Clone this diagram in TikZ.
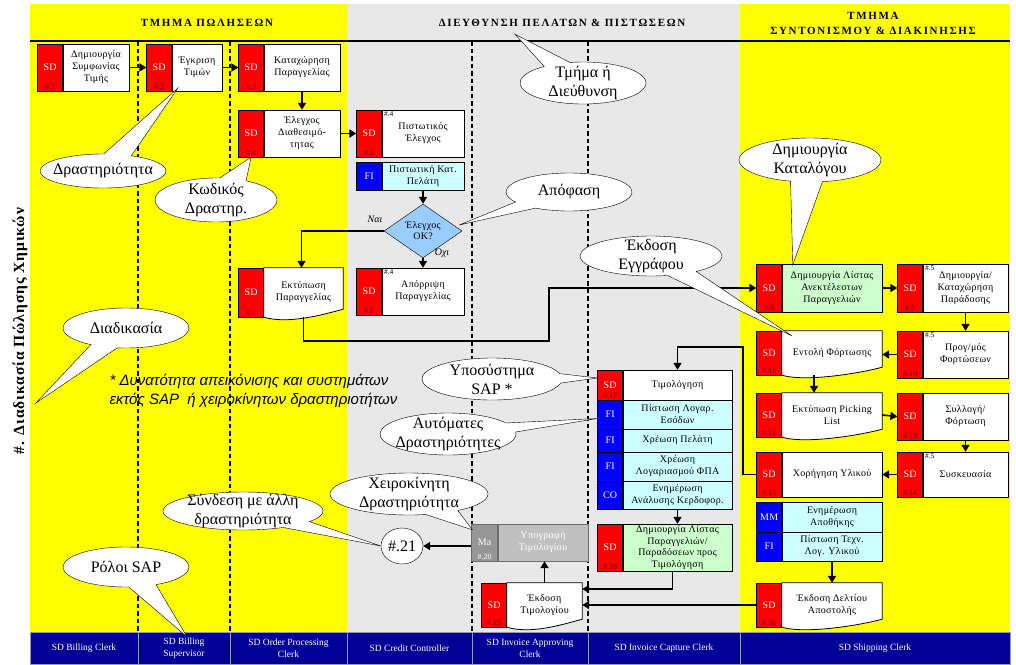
\documentclass[tikz,border=0pt]{standalone}
\usepackage{fontspec}
\setmainfont{Liberation Serif}
\setsansfont{Liberation Sans}
\newfontfamily\hdrfont[LetterSpace=15]{Liberation Serif}
\newfontfamily\titlefont[LetterSpace=6]{Liberation Serif}
\newfontfamily\boxfont[LetterSpace=3]{Liberation Serif}
\usetikzlibrary{arrows.meta,positioning,shapes.geometric,shapes.callouts,backgrounds}
\definecolor{laneyellow}{RGB}{255,255,0}
\definecolor{lanegrey}{RGB}{232,232,232}
\definecolor{rolenavy}{RGB}{0,0,153}
\definecolor{rolegrey}{RGB}{150,150,190}
\definecolor{tagred}{RGB}{255,0,0}
\definecolor{tagblue}{RGB}{0,0,255}
\definecolor{cyanfill}{RGB}{204,255,255}
\definecolor{greenfill}{RGB}{204,255,204}
\definecolor{diafill}{RGB}{153,204,255}
\definecolor{numred}{RGB}{90,0,0}
\definecolor{greyleft}{RGB}{150,150,150}
\definecolor{greyright}{RGB}{192,192,192}
\definecolor{greyedge}{RGB}{110,110,110}

\begin{document}
\begin{tikzpicture}
[x=1pt,y=-1pt,
tag/.style={draw,fill=tagred,text=white,minimum width=25pt,inner sep=0pt,font=\boxfont\fontsize{10}{12}\selectfont},
bluetag/.style={tag,fill=tagblue},
body/.style={draw,fill=white,align=center,inner sep=0pt,font=\boxfont\fontsize{10}{12}\selectfont},
cyanbody/.style={body,fill=cyanfill},
greenbody/.style={body,fill=greenfill},
docbody/.style={body,draw=none,fill=none},
num/.style={anchor=south,inner sep=1.5pt,text=numred,font=\fontsize{8}{9}\selectfont},
sup/.style={anchor=north west,inner sep=2pt,font=\fontsize{7.5}{8}\selectfont},
flow/.style={line width=1.6pt,-{Triangle[width=8pt,length=7pt]}},
bubble/.style={ellipse callout,draw,fill=white,callout pointer arc=26,inner sep=-8pt,align=center,font=\fontsize{16}{19}\selectfont},
lanesep/.style={line width=1.3pt,dash pattern=on 4.5pt off 3pt},
role/.style={draw=rolegrey,fill=rolenavy,text=white,align=center,inner sep=0pt,minimum height=32pt,font=\fontsize{9.5}{12}\selectfont},
hdr/.style={align=center,font=\hdrfont\bfseries\fontsize{11}{15}\selectfont}]
\useasboundingbox (0,0) rectangle (1016,664);

% lanes
\begin{scope}[on background layer]
\fill[laneyellow] (30,4) rectangle (347,632);
\fill[lanegrey] (347,4) rectangle (740,632);
\fill[laneyellow] (740,4) rectangle (1010,632);
\end{scope}
\draw[line width=1.5pt] (30,41) -- (1010,41);
\foreach \x in {138,230,472,588}
  \draw[lanesep] (\x,41) -- (\x,632);

\node[hdr] (h1) at (207,23) {ΤΜΗΜΑ ΠΩΛΗΣΕΩΝ};
\node[hdr] (h2) at (562,23) {ΔΙΕΥΘΥΝΣΗ ΠΕΛΑΤΩΝ \& ΠΙΣΤΩΣΕΩΝ};
\node[hdr] (h3) at (873,23) {ΤΜΗΜΑ\\ΣΥΝΤΟΝΙΣΜΟΥ \& ΔΙΑΚΙΝΗΣΗΣ};
\node[rotate=90,font=\titlefont\bfseries\fontsize{15.5}{17}\selectfont] (title) at (20,331) {\#. Διαδικασία Πώλησης Χημικών};

% roles
\node[role,minimum width=108pt] (r1) at (84,648) {SD Billing Clerk};
\node[role,minimum width=92pt] (r2) at (184,648) {SD Billing\\Supervisor};
\node[role,minimum width=117pt] (r3) at (288.5,648) {SD Order Processing\\Clerk};
\node[role,minimum width=125pt] (r4) at (409.5,648) {SD Credit Controller};
\node[role,minimum width=116pt] (r5) at (530,648) {SD Invoice Approving\\Clerk};
\node[role,minimum width=152pt] (r6) at (664,648) {SD Invoice Capture Clerk};
\node[role,minimum width=270pt] (r7) at (875,648) {SD Shipping Clerk};

% sales
\node[body,minimum width=66pt,minimum height=47pt] (b1) at (96,67.5) {Δημιουργία\\Συμφωνίας\\Τιμής};
\node[tag,minimum height=47pt,left=0pt of b1,label={[num]south:\#.1}] (t1) {SD};
\node[body,minimum width=50pt,minimum height=47pt] (b2) at (197,67.5) {Έγκριση\\Τιμών};
\node[tag,minimum height=47pt,left=0pt of b2,label={[num]south:\#.2}] (t2) {SD};
\node[body,minimum width=76pt,minimum height=47pt] (b3) at (302,67.5) {Καταχώρηση\\Παραγγελίας};
\node[tag,minimum height=47pt,left=0pt of b3,label={[num]south:\#.3}] (t3) {SD};
\node[body,minimum width=76pt,minimum height=47pt] (b4) at (302,133.5) {Έλεγχος\\Διαθεσιμό-\\τητας};
\node[tag,minimum height=47pt,left=0pt of b4,label={[num]south:\#.4}] (t4) {SD};
\node[docbody,minimum width=79pt,minimum height=49pt] (b7) at (303.5,292.5) {Εκτύπωση\\Παραγγελίας};
\node[tag,minimum height=49pt,left=0pt of b7,label={[num]south:\#.7}] (t7) {SD};

% credit
\node[body,minimum width=82pt,minimum height=47pt,label={[sup]north west:\#.4}] (b5) at (423,133.5) {Πιστωτικός\\Έλεγχος};
\node[tag,minimum height=47pt,left=0pt of b5,label={[num]south:\#.5}] (t5) {SD};
\node[cyanbody,minimum width=82pt,minimum height=28pt] (fi5b) at (423,176) {Πιστωτική Κατ.\\Πελάτη};
\node[bluetag,minimum height=28pt,left=0pt of fi5b] (fi5t) {FI};
\node[diamond,draw,fill=diafill,aspect=1.46,minimum width=78pt,minimum height=54pt,inner sep=0pt,align=center,font=\boxfont\fontsize{10}{11}\selectfont] (dia) at (423,231) {Έλεγχος\\OK?};
\node[font=\itshape\fontsize{10}{12}\selectfont] (yes) at (375,219) {Ναι};
\node[font=\itshape\fontsize{10}{12}\selectfont] (no) at (442,253) {Όχι};
\node[body,minimum width=82pt,minimum height=47pt,label={[sup]north west:\#.4}] (b6) at (423,291.5) {Απόρριψη\\Παραγγελίας};
\node[tag,minimum height=47pt,left=0pt of b6,label={[num]south:\#.6}] (t6) {SD};

% invoicing
\node[body,minimum width=109pt,minimum height=30pt] (b17) at (677.5,385) {Τιμολόγηση};
\node[tag,minimum height=30pt,left=0pt of b17,label={[num]south:\#.17}] (t17) {SD};
\node[cyanbody,minimum width=109pt,minimum height=29pt] (fiab) at (677.5,414.5) {Πίστωση Λογαρ.\\Εσόδων};
\node[bluetag,minimum height=29pt,left=0pt of fiab] (fiat) {FI};
\node[cyanbody,minimum width=109pt,minimum height=23pt] (fibb) at (677.5,440.5) {Χρέωση Πελάτη};
\node[bluetag,minimum height=23pt,left=0pt of fibb] (fibt) {FI};
\node[cyanbody,minimum width=109pt,minimum height=29pt] (ficb) at (677.5,466.5) {Χρέωση\\Λογαριασμού ΦΠΑ};
\node[bluetag,minimum height=29pt,left=0pt of ficb] (fict) {FI};
\node[cyanbody,minimum width=109pt,minimum height=28pt] (cob) at (677.5,495) {Ενημέρωση\\Ανάλυσης Κερδοφορ.};
\node[bluetag,minimum height=28pt,left=0pt of cob] (cot) {CO};
\node[greenbody,minimum width=109pt,minimum height=47pt,font=\boxfont\fontsize{10}{11.5}\selectfont] (b18) at (677.5,547.5) {Δημιουργία Λίστας\\Παραγγελιών/\\Παραδόσεων προς\\Τιμολόγηση};
\node[tag,minimum height=47pt,left=0pt of b18,label={[num]south:\#.18}] (t18) {SD};
\node[docbody,minimum width=75pt,minimum height=44pt] (b19) at (544.5,605) {Έκδοση\\Τιμολογίου};
\node[tag,minimum height=44pt,left=0pt of b19,label={[num]south:\#.19}] (t19) {SD};
\node[body,fill=greyright,draw=greyedge,text=white,minimum width=90pt,minimum height=37pt] (b20) at (543,542.5) {Υπογραφή\\Τιμολογίου};
\node[tag,fill=greyleft,draw=greyedge,minimum width=26pt,minimum height=37pt,left=0pt of b20,label={[num,text=white]south:\#.20}] (t20) {Ma};
\node[ellipse,draw,fill=white,minimum width=42pt,minimum height=36pt,inner sep=0pt,font=\fontsize{16}{19}\selectfont] (c21) at (402,546) {\#.21};

% shipping
\node[greenbody,minimum width=100pt,minimum height=48pt] (b8) at (832,288) {Δημιουργία Λίστας\\Ανεκτέλεστων\\Παραγγελιών};
\node[tag,minimum height=48pt,left=0pt of b8,label={[num]south:\#.8}] (t8) {SD};
\node[body,minimum width=85pt,minimum height=48pt,label={[sup]north west:\#.5}] (b9) at (965.5,288) {Δημιουργία/\\Καταχώρηση\\Παράδοσης};
\node[tag,minimum height=48pt,left=0pt of b9,label={[num]south:\#.9}] (t9) {SD};
\node[body,minimum width=85pt,minimum height=47pt,label={[sup]north west:\#.5}] (b10) at (965.5,354.5) {Προγ/μός\\Φορτώσεων};
\node[tag,minimum height=47pt,left=0pt of b10,label={[num]south:\#.10}] (t10) {SD};
\node[docbody,minimum width=100pt,minimum height=44pt] (b11) at (832,353) {Εντολή Φόρτωσης};
\node[tag,minimum height=44pt,left=0pt of b11,label={[num]south:\#.11}] (t11) {SD};
\node[docbody,minimum width=100pt,minimum height=44pt] (b12) at (832,415) {Εκτύπωση Picking\\List};
\node[tag,minimum height=44pt,left=0pt of b12,label={[num]south:\#.12}] (t12) {SD};
\node[body,minimum width=85pt,minimum height=47pt] (b13) at (965.5,416.5) {Συλλογή/\\Φόρτωση};
\node[tag,minimum height=47pt,left=0pt of b13,label={[num]south:\#.13}] (t13) {SD};
\node[body,minimum width=85pt,minimum height=45pt,label={[sup]north west:\#.5}] (b14) at (965.5,474.5) {Συσκευασία};
\node[tag,minimum height=45pt,left=0pt of b14,label={[num]south:\#.14}] (t14) {SD};
\node[body,minimum width=100pt,minimum height=45pt] (b15) at (832,474.5) {Χορήγηση Υλικού};
\node[tag,minimum height=45pt,left=0pt of b15,label={[num]south:\#.15}] (t15) {SD};
\node[cyanbody,minimum width=100pt,minimum height=30pt] (mmb) at (832,517) {Ενημέρωση\\Αποθήκης};
\node[bluetag,minimum height=30pt,left=0pt of mmb] (mmt) {MM};
\node[cyanbody,minimum width=100pt,minimum height=29pt] (fi15b) at (832,546.5) {Πίστωση Τεχν.\\Λογ. Υλικού};
\node[bluetag,minimum height=29pt,left=0pt of fi15b] (fi15t) {FI};
\node[docbody,minimum width=100pt,minimum height=44pt] (b16) at (832,605) {Έκδοση Δελτίου\\Αποστολής};
\node[tag,minimum height=44pt,left=0pt of b16,label={[num]south:\#.16}] (t16) {SD};

% document outlines
\begin{scope}[on background layer]
\foreach \d in {b7,b11,b12,b16,b19}
  \draw[fill=white,line width=0.8pt] (\d.north west) -- (\d.north east) -- ([yshift=8pt]\d.south east)
    .. controls ([xshift=-22pt,yshift=2pt]\d.south east) and ([xshift=24pt,yshift=-7pt]\d.south west) .. (\d.south west) -- cycle;
\end{scope}

% flow
\draw[flow] (b1.east) -- (t2.west);
\draw[flow] (b2.east) -- (t3.west);
\draw[flow] (b3.south) -- (b4.north);
\draw[flow] (b4.east) -- (t5.west);
\draw[flow] (fi5b.south) -- (dia.north);
\draw[flow] (dia.west) -| ([xshift=-2pt]b7.north);
\draw[flow] (dia.south) -- (b6.north);
\draw[flow] (b7.south) |- (549,341) |- (t8.west);
\draw[flow] (b8.east) -- (t9.west);
\draw[flow] (b9.south) -- (b10.north);
\draw[flow] (t10.west) -- (t10.west -| b11.east);
\draw[flow] ([xshift=-18pt]b11.south) -- ([xshift=-18pt]b12.north);
\draw[flow] (b12.east) -- (t13.west);
\draw[flow] (b13.south) -- (b14.north);
\draw[flow] (t14.west) -- (b15.east);
\draw[flow] (fi15b.south) -- (b16.north);
\draw[flow] (t15.west) -| (743,347) -| (b17.north);
\draw[flow] (cob.south) -- (b18.north);
\draw[flow] ([xshift=-5pt]b18.south) |- ([yshift=16pt]b19.east);
\draw[flow] (t16.west) -- (b19.east);
\draw[flow] (b19.north) -- (b19.north |- b20.south);
\draw[flow] (t20.west |- c21.east) -- (c21.east);

% callouts
\node[bubble,minimum width=126pt,minimum height=34pt,callout absolute pointer={([xshift=6pt,yshift=3pt]b2.south west)}] (bAct) at (103,171) {Δραστηριότητα};
\node[bubble,minimum width=122pt,minimum height=44pt,callout absolute pointer={(t4.south)}] (bCode) at (216,200) {Κωδικός\\Δραστηρ.};
\node[bubble,minimum width=126pt,minimum height=42pt,callout absolute pointer={([xshift=-47pt,yshift=-4pt]h2.south)}] (bDept) at (583,83) {Τμήμα ή\\Διεύθυνση};
\node[bubble,minimum width=126pt,minimum height=38pt,callout absolute pointer={([xshift=-3pt,yshift=6pt]dia.east)}] (bDec) at (569,192) {Απόφαση};
\node[bubble,minimum width=142pt,minimum height=44pt,callout absolute pointer={([xshift=11pt,yshift=-1pt]b8.north west)}] (bCat) at (810,160) {Δημιουργία\\Καταλόγου};
\node[bubble,minimum width=142pt,minimum height=40pt,callout absolute pointer={([xshift=10pt,yshift=-5pt]b11.north west)}] (bDoc) at (651,256) {Έκδοση\\Εγγράφου};
\node[bubble,minimum width=126pt,minimum height=40pt,callout absolute pointer={([xshift=5pt,yshift=-72pt]title.south)}] (bProc) at (126,328) {Διαδικασία};
\node[bubble,minimum width=140pt,minimum height=42pt,callout absolute pointer={([yshift=7pt]t17.west)}] (bSub) at (492,379) {Υποσύστημα\\SAP *};
\node[bubble,minimum width=136pt,minimum height=42pt,callout absolute pointer={([yshift=-4pt]fiat.west)}] (bAuto) at (448,434) {Αυτόματες\\Δραστηριότητες};
\node[bubble,minimum width=158pt,minimum height=42pt,callout absolute pointer={([xshift=1pt,yshift=-6pt]t20.north west)}] (bMan) at (409,494) {Χειροκίνητη\\Δραστηριότητα};
\node[bubble,minimum width=160pt,minimum height=38pt,callout absolute pointer={(c21.west)}] (bLink) at (243,511) {Σύνδεση με άλλη\\δραστηριότητα};
\node[bubble,minimum width=126pt,minimum height=40pt,callout absolute pointer={([xshift=3pt,yshift=-5pt]r2.north)}] (bRole) at (126,567) {Ρόλοι SAP};

\node[anchor=west,align=left,font=\sffamily\itshape\fontsize{15}{19}\selectfont] (note) at (106,391) {* Δυνατότητα απεικόνισης και συστημάτων\\εκτός SAP\ \ ή χειροκίνητων δραστηριοτήτων};
\end{tikzpicture}
\end{document}
